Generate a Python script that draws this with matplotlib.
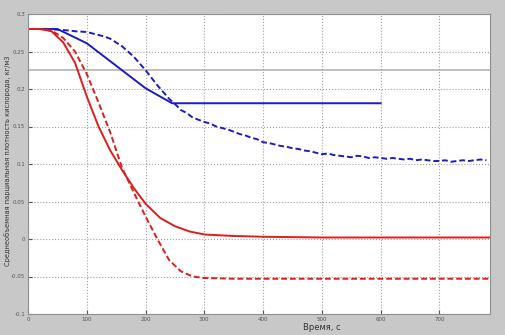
import numpy as np
import matplotlib
matplotlib.use("Agg")
import matplotlib.pyplot as plt

# blue solid (piecewise)
blue_solid_t = [0, 50, 100, 200, 245, 600]
blue_solid_y = [0.280, 0.280, 0.261, 0.201, 0.181, 0.181]

# blue dashed (noisy), sampled every 10 s
blue_dash_t = np.arange(0, 790, 10)
blue_dash_y = [0.280, 0.280, 0.280, 0.280, 0.2795, 0.279, 0.2785, 0.278, 0.277, 0.2765,
               0.276, 0.274, 0.272, 0.270, 0.267, 0.262, 0.257, 0.250, 0.243, 0.234,
               0.225, 0.215, 0.205, 0.196, 0.187,
               0.180, 0.172, 0.168, 0.162, 0.159, 0.156, 0.154, 0.150, 0.148, 0.146,
               0.143, 0.140, 0.138, 0.135, 0.133, 0.129, 0.128, 0.126, 0.124, 0.123,
               0.121, 0.120, 0.118, 0.117, 0.115, 0.113, 0.114, 0.112, 0.111, 0.110,
               0.109, 0.111, 0.110, 0.108, 0.109, 0.108, 0.107, 0.108, 0.107, 0.106,
               0.107, 0.105, 0.106, 0.105, 0.104, 0.104, 0.105, 0.103, 0.104, 0.105,
               0.104, 0.105, 0.106, 0.105]

# red solid
red_solid_t = [0, 20, 40, 60, 80, 100, 120, 140, 160, 180, 200, 225, 250, 275, 300, 350, 400, 500, 600, 786]
red_solid_y = [0.280, 0.280, 0.277, 0.262, 0.235, 0.190, 0.150, 0.118, 0.092, 0.068,
               0.047, 0.028, 0.017, 0.010, 0.006, 0.004, 0.003, 0.002, 0.002, 0.002]

# red dashed
red_dash_t = [0, 20, 40, 60, 80, 100, 120, 140, 160, 180, 200, 220, 240, 260, 280, 300, 350, 786]
red_dash_y = [0.280, 0.280, 0.278, 0.268, 0.250, 0.220, 0.182, 0.142, 0.095, 0.062,
              0.030, 0.000, -0.028, -0.043, -0.050, -0.052, -0.053, -0.053]

xticks = [0, 100, 200, 300, 400, 500, 600, 700]
yticks = [-0.1, -0.05, 0, 0.05, 0.1, 0.15, 0.2, 0.25, 0.3]
ylabels = ['-0.1', '-0.05', '0', '0.05', '0.1', '0.15', '0.2', '0.25', '0.3']

blue = '#1c1cc4'
red = '#e01c1c'

fig = plt.figure(figsize=(5.05, 3.35), dpi=100, facecolor='#c8c8c8')
ax = fig.add_axes([28/505, 1-314/335, 462/505, 300/335])
ax.set_facecolor('white')

ax.axhline(0.225, color='#b4b4b4', lw=1.2, zorder=1)

ax.plot(blue_solid_t, blue_solid_y, color=blue, lw=1.4)
ax.plot(blue_dash_t, blue_dash_y, color=blue, lw=1.4, ls=(0, (3, 1.5)))
ax.plot(red_solid_t, red_solid_y, color=red, lw=1.4)
ax.plot(red_dash_t, red_dash_y, color=red, lw=1.4, ls=(0, (3, 1.5)))

ax.set_xlim(0, 786)
ax.set_ylim(-0.1, 0.3)
ax.set_xticks(xticks)
ax.set_xticklabels([str(v) for v in xticks])
ax.set_yticks(yticks)
ax.set_yticklabels(ylabels)
ax.tick_params(direction='in', length=3, labelsize=4, colors='#555555', pad=2)
ax.grid(True, color='#a0a0a0', ls=':', lw=0.8)
for s in ax.spines.values():
    s.set_color('#909090')

fig.text(322/505, 1-327/335, 'Время, с', ha='center', va='center', fontsize=6, color='#333333')
fig.text(8/505, 1-161/335, 'Среднеобъемная парциальная плотность кислорода, кг/м3',
         ha='center', va='center', rotation=90, fontsize=4.8, color='#333333')

fig.savefig('out.png', dpi=100, facecolor=fig.get_facecolor())
